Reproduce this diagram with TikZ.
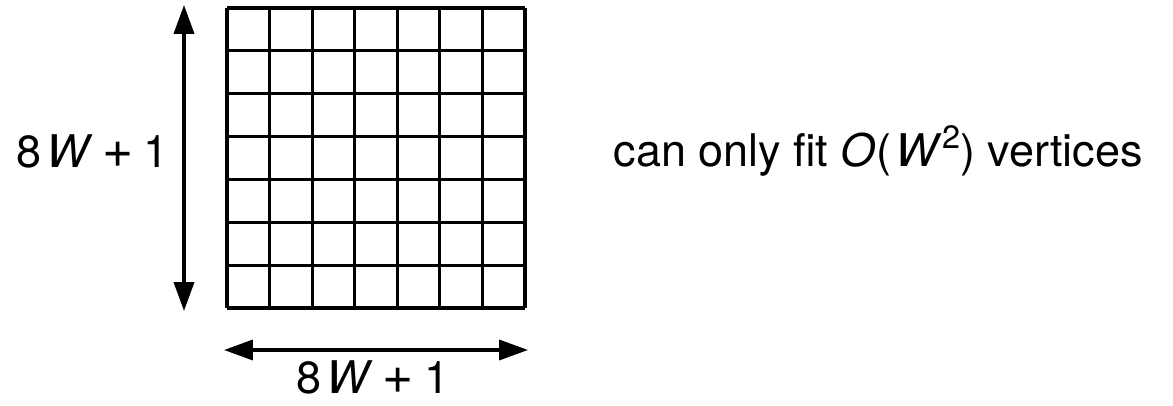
\documentclass[tikz,border=0pt]{standalone}
\usepackage{fontspec}
\setmainfont{TeX Gyre Heros}
\usetikzlibrary{positioning, arrows.meta, calc}

\newcommand{\sqsup}[1]{\raisebox{0.42em}{\fontsize{23}{27}\selectfont #1}}
\newcommand{\bigplus}{\kern0.22em{\fontsize{38}{42}\selectfont +}\kern0.22em}

\begin{document}
\begin{tikzpicture}[
    x=0.025cm, y=-0.025cm,
    >={Triangle[length=0.72cm, width=0.5cm]},
    line width=2.3pt,
    font=\fontsize{32}{38}\selectfont
]
\useasboundingbox (0,0) rectangle (1173,406);

% grid corners
\coordinate (gridNW) at (227,8);
\coordinate (gridSE) at (525,308);

% grid lines
\foreach \i in {0,...,7} {
    \draw ($(gridNW)!\i/7!(gridNW -| gridSE)$) -- ($(gridNW |- gridSE)!\i/7!(gridSE)$);
    \draw ($(gridNW)!\i/7!(gridNW |- gridSE)$) -- ($(gridNW -| gridSE)!\i/7!(gridSE)$);
}

% height arrow
\coordinate (vtop) at (184,5);
\coordinate (vbot) at (184,311);
\draw[<->] (vtop) -- (vbot);

% width arrow
\coordinate (hleft) at (224,350);
\coordinate (hright) at (528,350);
\draw[<->] (hleft) -- (hright);

% labels
\node[anchor=base west, inner sep=0pt] (heightlabel) at (15,168) {8\kern0.1em\textit{W}\bigplus 1};
\node[anchor=base, inner sep=0pt] (widthlabel) at (373,394) {8\kern0.1em\textit{W}\bigplus 1};
\node[anchor=base west, inner sep=0pt] (fitlabel) at (612,167)
    {can only fit \textit{O}(\kern0.1em\textit{W}\sqsup{2}) vertices};

\end{tikzpicture}
\end{document}
